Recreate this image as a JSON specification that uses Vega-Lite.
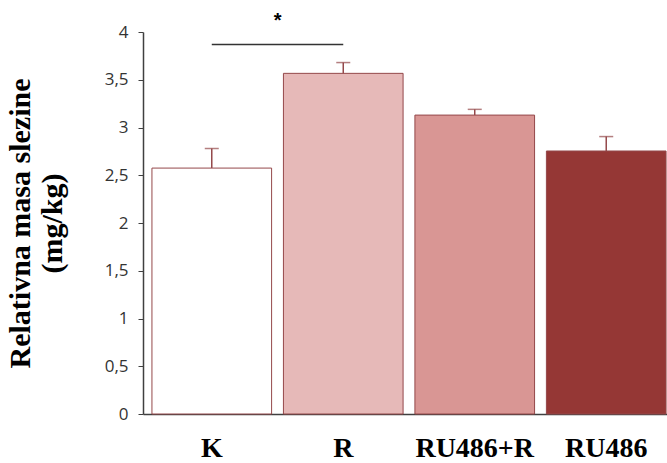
{
  "$schema": "https://vega.github.io/schema/vega-lite/v6.json",
  "width": 532,
  "height": 382,
  "autosize": {"type": "none"},
  "padding": {"left": 143, "top": 32, "right": 0, "bottom": 49},
  "background": "white",
  "config": {"view": {"stroke": null}},
  "datasets": {
    "bars": [
      {"group": "K", "value": 2.575, "upper": 2.78},
      {"group": "R", "value": 3.567, "upper": 3.68},
      {"group": "RU486+R", "value": 3.13, "upper": 3.19},
      {"group": "RU486", "value": 2.754, "upper": 2.905}
    ],
    "sig": [{"from": "K", "to": "R", "y": 3.87, "ylabel": 4.11, "label": "*"}]
  },
  "layer": [
    {
      "data": {"name": "bars"},
      "mark": {"type": "bar", "stroke": "#94484A", "strokeWidth": 1},
      "encoding": {
        "x": {
          "field": "group", "type": "nominal",
          "scale": {"domain": ["K", "R", "RU486+R", "RU486"], "paddingInner": 0.09, "paddingOuter": 0.068},
          "axis": {
            "title": null, "ticks": false, "labelAngle": 0,
            "labelFont": "Liberation Serif", "labelFontWeight": "bold",
            "labelFontSize": 28, "labelColor": "#000000",
            "labelPadding": 20, "domainColor": "#404040", "domainWidth": 1.5
          }
        },
        "y": {
          "field": "value", "type": "quantitative",
          "scale": {"domain": [0, 4], "nice": false},
          "axis": {
            "values": [0, 0.5, 1, 1.5, 2, 2.5, 3, 3.5, 4],
            "labelExpr": "replace(toString(datum.value), '.', ',')",
            "grid": false, "tickSize": 5, "tickColor": "#404040",
            "domainColor": "#404040", "domainWidth": 1.5,
            "labelFont": "Open Sans", "labelFontSize": 17, "labelColor": "#333333",
            "labelPadding": 10,
            "title": ["Relativna masa slezine", "(mg/kg)"],
            "titleFont": "Liberation Serif", "titleFontWeight": "bold",
            "titleFontSize": 30, "titleLineHeight": 32, "titleColor": "#000000",
            "titlePadding": 37
          }
        },
        "fill": {
          "field": "group", "type": "nominal",
          "scale": {"domain": ["K", "R", "RU486+R", "RU486"], "range": ["#FFFFFF", "#E6B9B8", "#D99694", "#953735"]},
          "legend": null
        }
      }
    },
    {
      "data": {"name": "bars"},
      "mark": {"type": "rule", "color": "#94484A", "strokeWidth": 1.5},
      "encoding": {
        "x": {"field": "group", "type": "nominal"},
        "y": {"field": "value", "type": "quantitative"},
        "y2": {"field": "upper"}
      }
    },
    {
      "data": {"name": "bars"},
      "mark": {"type": "tick", "color": "#94484A", "size": 14, "thickness": 1.5},
      "encoding": {
        "x": {"field": "group", "type": "nominal"},
        "y": {"field": "upper", "type": "quantitative"}
      }
    },
    {
      "data": {"name": "sig"},
      "mark": {"type": "rule", "color": "#333333", "strokeWidth": 1.5},
      "encoding": {
        "x": {"field": "from", "type": "nominal", "bandPosition": 0.5},
        "x2": {"field": "to"},
        "y": {"field": "y", "type": "quantitative"}
      }
    },
    {
      "data": {"name": "sig"},
      "mark": {"type": "text", "fontSize": 20, "font": "Liberation Sans", "fontWeight": "bold", "color": "#000000", "dx": 6, "baseline": "middle"},
      "encoding": {
        "x": {"field": "from", "type": "nominal", "bandPosition": 1},
        "y": {"field": "ylabel", "type": "quantitative"},
        "text": {"field": "label"}
      }
    }
  ]
}
